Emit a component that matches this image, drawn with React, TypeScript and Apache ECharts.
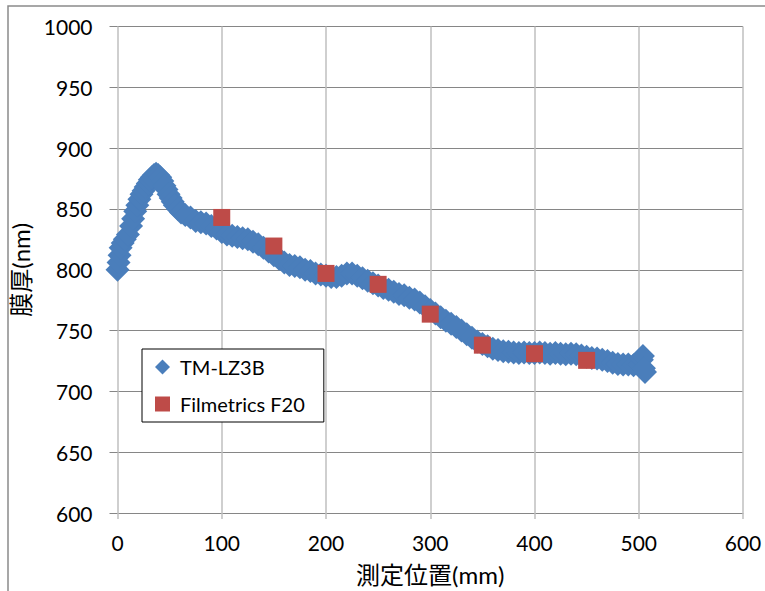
import React, { useEffect, useRef } from "react";
import * as echarts from "echarts";

const xTicks = [0, 100, 200, 300, 400, 500, 600];
const yTicks = [600, 650, 700, 750, 800, 850, 900, 950, 1000];

const tmX = [
  0, 1, 2, 3, 5, 7, 10, 13, 15, 17, 19, 21, 23, 25, 27, 29, 31, 33, 35, 37, 39, 41, 43, 45, 47, 49,
  51, 53, 55, 58, 61, 65, 70, 75, 80, 85, 90, 95, 100, 105, 110, 115, 120, 125, 130, 135, 140, 145,
  150, 155, 160, 165, 170, 175, 180, 185, 190, 195, 200, 205, 210, 215, 220, 225, 230, 235, 240, 245,
  250, 255, 260, 265, 270, 275, 280, 285, 290, 295, 300, 305, 310, 315, 320, 325, 330, 335, 340, 345,
  350, 355, 360, 365, 370, 375, 380, 385, 390, 395, 400, 405, 410, 415, 420, 425, 430, 435, 440, 445,
  450, 455, 460, 465, 470, 475, 480, 485, 490, 495, 500, 503, 504, 505, 506,
];
const tmY = [
  800, 806, 812, 818, 822, 825, 829, 836, 842, 848, 853, 858, 862, 865, 868, 871, 874, 876, 878, 879, 878, 876, 873, 869, 866, 862,
  859, 856, 853, 850, 847, 845, 843, 840, 839, 838, 836, 834, 831, 829, 828, 827, 826, 825, 823, 821, 818, 815,
  812, 809, 806, 804, 803, 802, 800, 799, 797, 796, 795, 794, 794, 795, 797, 797, 795, 793, 791, 789,
  787, 785, 783.5, 782, 780, 779, 777, 775.5, 773, 770, 767, 764, 761, 758, 755.5, 753, 750, 747, 744, 741,
  739, 737, 735, 734, 733, 732.5, 732, 731.5, 732, 731.5, 731.5, 732, 731.5, 731, 731.5, 731, 730.5, 731, 730.5, 729.5,
  728.5, 727.5, 727, 726, 725, 723.5, 722.5, 722, 722, 721.5, 722, 726, 729, 719, 716,
];

const f20X = [100, 150, 200, 250, 300, 350, 400, 450];
const f20Y = [843, 819.5, 797, 788, 763.5, 738, 731, 725.5];

const FONT = "Lato, 'Noto Sans CJK JP', sans-serif";

export default function App() {
  const ref = useRef<HTMLDivElement>(null);
  useEffect(() => {
    if (!ref.current) return;
    const chart = echarts.init(ref.current, null, { renderer: "svg" });
    chart.setOption({
      animation: false,
      backgroundColor: "#ffffff",
      textStyle: { fontFamily: FONT },
      graphic: [
        {
          type: "rect",
          shape: { x: 8, y: 6, width: 800, height: 700 },
          style: { fill: "none", stroke: "#8a8a8a", lineWidth: 1.5 },
          silent: true,
          z: -10,
        },
      ],
      grid: { left: 117.5, right: 22, top: 26.5, bottom: 76.5 },
      legend: {
        orient: "vertical",
        left: 142,
        top: 349,
        padding: [7, 19, 7, 13],
        itemGap: 15,
        itemWidth: 15,
        itemHeight: 15,
        backgroundColor: "#ffffff",
        borderColor: "#000000",
        borderWidth: 1,
        borderRadius: 0,
        textStyle: { fontFamily: FONT, fontSize: 20, color: "#000", lineHeight: 22, padding: [0, 0, 0, 5] },
        data: [
          { name: "TM-LZ3B", icon: "diamond" },
          { name: "Filmetrics F20", icon: "rect" },
        ],
      },
      xAxis: {
        type: "value",
        min: xTicks[0],
        max: xTicks[xTicks.length - 1],
        interval: 100,
        name: "測定位置(mm)",
        nameLocation: "middle",
        nameGap: 49,
        nameTextStyle: { fontFamily: FONT, fontSize: 24, color: "#000" },
        axisLine: { show: true, lineStyle: { color: "#868686", width: 1 } },
        axisTick: { show: true, length: 6, lineStyle: { color: "#BFBFBF", width: 1.5 } },
        axisLabel: {
          fontFamily: FONT,
          fontSize: 21,
          color: "#000",
          margin: 19,
          formatter: (v: number) => (xTicks.includes(v) ? String(v) : ""),
        },
        splitLine: { show: true, lineStyle: { color: "#BFBFBF", width: 1.5 } },
      },
      yAxis: {
        type: "value",
        min: yTicks[0],
        max: yTicks[yTicks.length - 1],
        interval: 50,
        name: "膜厚(nm)",
        nameLocation: "middle",
        nameGap: 80,
        nameRotate: 90,
        nameTextStyle: { fontFamily: FONT, fontSize: 24, color: "#000" },
        axisLine: { show: false },
        axisTick: { show: true, length: 8, lineStyle: { color: "#868686", width: 1 } },
        axisLabel: {
          fontFamily: FONT,
          fontSize: 21,
          color: "#000",
          margin: 25,
          formatter: (v: number) => (yTicks.includes(v) ? String(v) : ""),
        },
        splitLine: { show: true, lineStyle: { color: "#868686", width: 1 } },
      },
      series: [
        {
          name: "TM-LZ3B",
          type: "scatter",
          symbol: "diamond",
          symbolSize: 24,
          itemStyle: { color: "#4A7EBB", opacity: 1 },
          data: tmX.map((x, i) => [x, tmY[i]]),
          z: 2,
        },
        {
          name: "Filmetrics F20",
          type: "scatter",
          symbol: "rect",
          symbolSize: 17,
          itemStyle: { color: "#BE4B48", opacity: 1 },
          data: f20X.map((x, i) => [x, f20Y[i]]),
          z: 3,
        },
      ],
    });
    return () => chart.dispose();
  }, []);
  return (
    <div
      ref={ref}
      style={{ position: "fixed", left: 0, top: 0, width: 765, height: 591, background: "#fff" }}
    />
  );
}
